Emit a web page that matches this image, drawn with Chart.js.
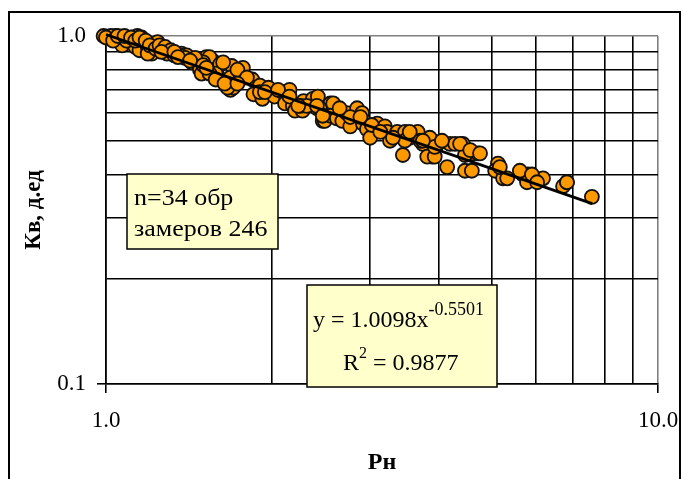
<!DOCTYPE html>
<html>
<head>
<meta charset="utf-8">
<script src="https://cdn.jsdelivr.net/npm/chart.js@4.4.0/dist/chart.umd.min.js"></script>
<style>
  html, body { margin: 0; padding: 0; background: #fff; }
  #wrap { width: 682px; height: 479px; }
</style>
</head>
<body>
<div id="wrap"><canvas id="chart" width="682" height="479"></canvas></div>
<script>
const pressureX = [
  0.99, 1.04, 1.07, 1.09, 1.12, 1.14, 1.16, 1.06, 1.07, 1.11,
  1.13, 1.15, 1.18, 1.19, 1.24, 1.21, 1.29, 1.37, 1.40, 1.43,
  1.46, 1.52, 1.56, 1.48, 1.51, 1.56, 1.60, 1.60, 1.54, 1.50,
  1.49, 1.61, 1.58, 1.69, 1.68, 1.77, 1.75, 1.68, 1.70, 1.84,
  1.90, 1.97, 1.85, 1.92, 2.02, 2.09, 2.15, 2.11, 2.18, 2.28,
  2.37, 2.20, 2.27, 2.41, 2.51, 2.47, 2.55, 2.44, 2.49, 2.58,
  2.55, 2.62, 2.68, 2.73, 2.85, 2.91, 2.77, 2.92, 2.97, 3.01,
  3.10, 3.20, 3.23, 3.27, 3.37, 3.48, 3.55, 3.48, 3.67, 3.45,
  3.75, 3.90, 3.90, 3.99, 3.82, 4.20, 4.29, 3.94, 4.15, 4.43,
  4.62, 4.72, 4.47, 4.47, 4.60, 5.13, 5.07, 5.24, 5.69, 5.81,
  5.94, 5.79, 6.19, 6.73, 6.84, 7.59, 5.33, 1.19, 1.02, 1.05,
  1.09, 1.66, 1.90, 2.25,
  1.00, 1.03, 1.05, 1.08, 1.11, 1.13, 1.15, 1.18, 1.20, 1.23,
  1.25, 1.28, 1.31, 1.33, 1.36, 1.39, 1.45, 1.26, 1.33, 1.35,
  1.42, 1.50, 1.54, 1.58, 1.52, 1.63, 1.73, 1.80, 1.64, 1.73,
  1.94, 2.05, 2.15, 2.31, 2.42, 2.23, 2.41, 2.47, 2.65, 2.77,
  2.89, 3.03, 3.14, 3.31, 3.55, 3.71, 3.86, 3.94, 3.75, 4.06,
  4.38, 4.57, 4.76, 5.17, 5.62, 5.91, 6.04, 6.84
];
const waterY = [
  1.00, 1.00, 0.99, 0.99, 0.99, 1.00, 0.99, 0.96, 0.94, 0.96,
  0.93, 0.91, 0.96, 0.93, 0.96, 0.89, 0.89, 0.89, 0.88, 0.84,
  0.84, 0.87, 0.85, 0.80, 0.80, 0.80, 0.82, 0.76, 0.87, 0.84,
  0.78, 0.83, 0.78, 0.82, 0.76, 0.81, 0.75, 0.70, 0.71, 0.75,
  0.72, 0.71, 0.68, 0.66, 0.67, 0.69, 0.70, 0.64, 0.63, 0.65,
  0.66, 0.61, 0.61, 0.62, 0.60, 0.57, 0.64, 0.62, 0.57, 0.64,
  0.59, 0.58, 0.57, 0.60, 0.62, 0.60, 0.55, 0.56, 0.54, 0.51,
  0.56, 0.55, 0.53, 0.50, 0.53, 0.53, 0.51, 0.50, 0.53, 0.455,
  0.49, 0.50, 0.45, 0.49, 0.45, 0.49, 0.49, 0.45, 0.42, 0.49,
  0.46, 0.46, 0.455, 0.41, 0.41, 0.43, 0.41, 0.39, 0.40, 0.40,
  0.39, 0.38, 0.39, 0.37, 0.38, 0.345, 0.39, 0.89, 1.00, 0.99,
  0.97, 0.71, 0.69, 0.63,
  0.99, 0.97, 1.00, 1.00, 0.99, 0.97, 0.99, 0.97, 0.94, 0.92,
  0.94, 0.93, 0.91, 0.88, 0.88, 0.865, 0.865, 0.90, 0.90, 0.87,
  0.85, 0.825, 0.78, 0.75, 0.81, 0.84, 0.80, 0.76, 0.73, 0.73,
  0.69, 0.70, 0.67, 0.63, 0.67, 0.63, 0.63, 0.59, 0.62, 0.585,
  0.585, 0.555, 0.53, 0.51, 0.53, 0.50, 0.51, 0.48, 0.50, 0.50,
  0.49, 0.47, 0.46, 0.42, 0.41, 0.40, 0.38, 0.38
];

// power trend line end points, y = 1.0098x^-0.5501
const trendX = [1.0, 7.6];
const trendY = [1.01, 0.33];

// grid positions and the labelled ticks
const xGridValues = [1, 2, 3, 4, 5, 6, 7, 8, 9, 10];
const yGridValues = [0.1, 0.2, 0.3, 0.4, 0.5, 0.6, 0.7, 0.8, 0.9, 1];
const xTickValues = [1, 10];
const xTickLabels = ['1.0', '10.0'];
const yTickValues = [0.1, 1];
const yTickLabels = ['0.1', '1.0'];

const noteLines = ['n=34 обр', 'замеров 246'];
const fitLine = ['y = 1.0098x', '-0.5501'];
const r2Line = ['R', '2', ' = 0.9877'];

const SERIF = "'Liberation Serif', 'Times New Roman', serif";

function pickLabel(values, labels, v) {
  const i = values.findIndex(t => Math.abs(t - v) < 1e-9);
  return i >= 0 ? labels[i] : '';
}
const isMajor = (values, v) => values.some(t => Math.abs(t - v) < 1e-9);

function wideText(ctx, text, x, y, sx) {
  ctx.save();
  ctx.translate(x, y);
  ctx.scale(sx, 1);
  ctx.fillText(text, 0, 0);
  ctx.restore();
}

// === Text boxes and outer frame ===
const decor = {
  id: 'decor',
  afterDatasetsDraw(chart) {
    const ctx = chart.ctx;
    ctx.save();
    ctx.fillStyle = '#FFFFCC';
    ctx.strokeStyle = '#000';
    ctx.lineWidth = 1.5;

    // sample count box
    ctx.fillRect(127, 174, 151, 75);
    ctx.strokeRect(127, 174, 151, 75);
    // equation box
    ctx.fillRect(307, 285, 190, 102);
    ctx.strokeRect(307, 285, 190, 102);

    ctx.fillStyle = '#000';
    ctx.textBaseline = 'alphabetic';
    ctx.textAlign = 'left';
    ctx.font = '23px ' + SERIF;
    wideText(ctx, noteLines[0], 134, 205, 1.13);
    wideText(ctx, noteLines[1], 134, 236, 1.13);

    ctx.font = '24px ' + SERIF;
    ctx.fillText(fitLine[0], 313, 327);
    let w = ctx.measureText(fitLine[0]).width;
    ctx.font = '18px ' + SERIF;
    ctx.fillText(fitLine[1], 313 + w, 315);

    ctx.font = '24px ' + SERIF;
    ctx.fillText(r2Line[0], 343, 370);
    w = ctx.measureText(r2Line[0]).width;
    ctx.font = '16px ' + SERIF;
    ctx.fillText(r2Line[1], 343 + w, 358);
    const w2 = ctx.measureText(r2Line[1]).width;
    ctx.font = '24px ' + SERIF;
    ctx.fillText(r2Line[2], 343 + w + w2, 370);
    ctx.restore();
  },
  afterDraw(chart) {
    const ctx = chart.ctx;
    ctx.save();
    ctx.strokeStyle = '#000';
    ctx.lineWidth = 2;
    ctx.beginPath();
    ctx.moveTo(9, 490);
    ctx.lineTo(9, 12);
    ctx.lineTo(680, 12);
    ctx.lineTo(680, 490);
    ctx.stroke();
    ctx.restore();
  }
};

const ctx = document.getElementById('chart').getContext('2d');
new Chart(ctx, {
  type: 'scatter',
  data: {
    datasets: [
      {
        type: 'line',
        data: trendX.map((x, i) => ({ x, y: trendY[i] })),
        borderColor: '#000',
        borderWidth: 2.8,
        pointRadius: 0,
        fill: false,
        clip: false
      },
      {
        data: pressureX.map((x, i) => ({ x, y: waterY[i] })),
        backgroundColor: '#FF9900',
        borderColor: '#111',
        borderWidth: 1.8,
        pointRadius: 7,
        clip: false
      }
    ]
  },
  options: {
    responsive: false,
    animation: false,
    devicePixelRatio: 1,
    events: [],
    layout: { padding: { top: 36, right: 24, left: 0, bottom: 0 } },
    plugins: { legend: { display: false }, tooltip: { enabled: false } },
    scales: {
      x: {
        type: 'logarithmic',
        min: 1,
        max: 10,
        afterBuildTicks: s => { s.ticks = xGridValues.map(v => ({ value: v })); },
        afterFit: s => { s.height = 95; s.paddingLeft = 0; s.paddingRight = 0; },
        border: { color: '#000', width: 1.6 },
        grid: {
          color: c => (c.tick && Math.abs(c.tick.value - 10) < 1e-9) ? '#808080' : '#000',
          lineWidth: 1.6,
          tickLength: 9,
          tickColor: c => (c.tick && isMajor(xTickValues, c.tick.value)) ? '#000' : 'rgba(0,0,0,0)'
        },
        ticks: {
          autoSkip: false,
          maxRotation: 0,
          padding: 14,
          color: '#000',
          font: { family: SERIF, size: 23 },
          callback: v => pickLabel(xTickValues, xTickLabels, v)
        },
        title: {
          display: true,
          text: 'Рн',
          color: '#000',
          font: { family: SERIF, size: 24, weight: 'bold' },
          padding: { top: 0, bottom: 2 }
        }
      },
      y: {
        type: 'logarithmic',
        min: 0.1,
        max: 1,
        afterBuildTicks: s => { s.ticks = yGridValues.map(v => ({ value: v })); },
        afterFit: s => { s.width = 106; s.paddingTop = 0; s.paddingBottom = 0; },
        border: { color: '#000', width: 1.6 },
        grid: {
          color: c => (c.tick && Math.abs(c.tick.value - 1) < 1e-9) ? '#808080' : '#000',
          lineWidth: 1.6,
          tickLength: 9,
          tickColor: c => (c.tick && isMajor(yTickValues, c.tick.value)) ? '#000' : 'rgba(0,0,0,0)'
        },
        ticks: {
          autoSkip: false,
          padding: 11,
          color: '#000',
          font: { family: SERIF, size: 23 },
          callback: v => pickLabel(yTickValues, yTickLabels, v)
        },
        title: {
          display: true,
          text: 'Кв, д.ед',
          color: '#000',
          font: { family: SERIF, size: 23, weight: 'bold' },
          padding: { top: 20, bottom: 0 }
        }
      }
    }
  },
  plugins: [decor]
});
</script>
</body>
</html>
